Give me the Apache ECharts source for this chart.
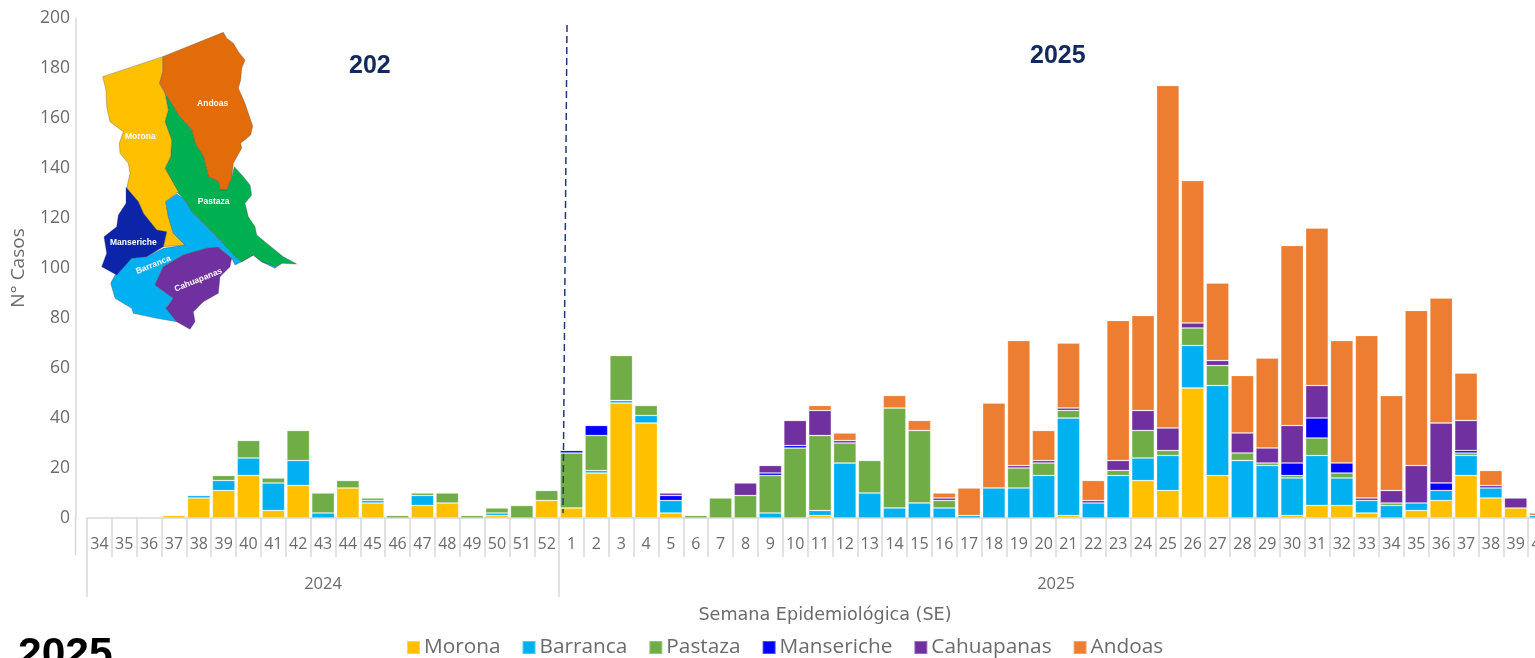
<!DOCTYPE html>
<html><head><meta charset="utf-8">
<style>html,body{margin:0;padding:0;background:#fff;overflow:hidden}#c{width:1535px;height:658px}</style>
<script src="https://cdn.jsdelivr.net/npm/echarts@6/dist/echarts.min.js"></script>
</head><body><div id="c"></div>
<script>
const weeks = ['34','35','36','37','38','39','40','41','42','43','44','45','46','47','48','49','50','51','52',
 '1','2','3','4','5','6','7','8','9','10','11','12','13','14','15','16','17','18','19','20','21','22','23','24','25','26','27','28','29','30','31','32','33','34','35','36','37','38','39','40'];
const yearLabels = ['2024','2025'];
const morona = [0,0,0,1,8,11,17,3,13,0,12,6,0,5,6,0,1,0,7,
 4,18,46,38,2,0,0,0,0,0,1,0,0,0,0,0,0,0,0,0,1,0,0,15,11,52,17,0,0,1,5,5,2,0,3,7,17,8,4,0];
const barranca = [0,0,0,0,1,4,7,11,10,2,0,1,0,4,0,0,1,0,0,
 0,1,1,3,5,0,0,0,2,0,2,22,10,4,6,4,1,12,12,17,39,6,17,9,14,17,36,23,21,15,20,11,5,5,3,4,8,4,0,1];
const pastaza = [0,0,0,0,0,2,7,2,12,8,3,1,1,1,4,1,2,5,4,
 22,14,18,4,0,1,8,9,15,28,30,8,13,40,29,3,0,0,8,5,3,0,2,11,2,7,8,3,1,1,7,2,0,1,0,0,1,0,0,0];
const manseriche = [0,0,0,0,0,0,0,0,0,0,0,0,0,0,0,0,0,0,0,
 1,4,0,0,2,0,0,0,1,1,0,0,0,0,0,0,0,0,0,0,0,0,0,0,0,0,0,0,0,5,8,4,0,0,0,3,1,0,0,0];
const cahuapanas = [0,0,0,0,0,0,0,0,0,0,0,0,0,0,0,0,0,0,0,
 0,0,0,0,1,0,0,5,3,10,10,1,0,0,0,1,0,0,1,1,1,1,4,8,9,2,2,8,6,15,13,0,1,5,15,24,12,1,4,0];
const andoas = [0,0,0,0,0,0,0,0,0,0,0,0,0,0,0,0,0,0,0,
 0,0,0,0,0,0,0,0,0,0,2,3,0,5,4,2,11,34,50,12,26,8,56,38,137,57,31,23,36,72,63,49,65,38,62,50,19,6,0,1];
const names = ['Morona','Barranca','Pastaza','Manseriche','Cahuapanas','Andoas'];
const colors = ['#FFC000','#00B0F0','#70AD47','#0000FF','#7030A0','#ED7D31'];
const seriesValues = [morona,barranca,pastaza,manseriche,cahuapanas,andoas];

const F = '"Open Sans", sans-serif';
const GREY = '#6b6b6b', LINE = '#D9D9D9';

/* inset map (decoration) at 3x */
const mapRegions = [
 ['#E36C0A',[[488,170],[670,97],[680,115],[700,130],[715,155],[735,180],[725,205],[722,240],[715,265],[735,310],[745,340],[758,378],[752,405],[722,430],[725,445],[700,490],[695,535],[680,570],[660,570],[655,545],[625,530],[610,470],[585,430],[575,390],[535,345],[505,295],[478,250],[488,215]]],
 ['#00B050',[[472,250],[505,295],[535,345],[575,390],[585,430],[610,470],[625,530],[655,545],[660,570],[680,570],[695,535],[703,500],[730,530],[750,555],[755,585],[735,610],[745,650],[765,680],[770,705],[800,730],[850,770],[890,792],[845,790],[825,800],[785,785],[760,765],[725,785],[705,770],[660,720],[610,670],[575,635],[550,595],[530,575],[495,505],[512,470],[515,420],[495,365],[505,330],[495,280]]],
 ['#FFC000',[[308,230],[488,170],[488,215],[478,250],[495,280],[505,330],[495,365],[515,420],[512,470],[495,505],[535,575],[497,605],[505,650],[520,700],[555,735],[490,740],[500,700],[470,690],[430,640],[415,605],[380,565],[390,520],[385,490],[360,460],[358,430],[370,395],[330,365],[320,320],[318,270]]],
 ['#00B0F0',[[530,582],[497,605],[505,650],[520,700],[555,735],[490,745],[440,770],[395,775],[345,825],[332,850],[345,895],[395,925],[400,940],[470,955],[530,965],[500,920],[520,895],[465,855],[490,800],[550,765],[620,745],[660,745],[695,775],[705,795],[725,785],[760,765],[785,785],[825,805],[845,790],[825,800],[785,785],[760,765],[725,785],[705,770],[660,720],[610,670],[575,635],[550,595]]],
 ['#0B24A8',[[378,562],[415,605],[430,640],[470,690],[500,695],[490,740],[440,770],[395,775],[350,825],[305,800],[320,760],[312,710],[350,680],[355,645],[378,610]]],
 ['#7030A0',[[465,855],[490,800],[550,765],[620,745],[655,742],[695,775],[690,800],[660,830],[655,880],[610,905],[580,935],[585,965],[570,988],[530,965],[498,925],[520,895]]]
];
const mapLabels = [['Andoas',638,310,0],['Morona',421,411,0],['Pastaza',641,604,0],['Manseriche',400,727,0],['Barranca',460,795,-22],['Cahuapanas',595,840,-22]];

const graphic = [];
mapRegions.forEach(r => graphic.push({type:'polygon',z:50,
  shape:{points:r[1].map(p=>[p[0]/3,p[1]/3])},
  style:{fill:r[0],stroke:'rgba(70,70,70,0.55)',lineWidth:0.6}}));
mapLabels.forEach(l => graphic.push({type:'text',z:51,x:l[1]/3,y:l[2]/3,rotation:l[3]*Math.PI/-180,
  style:{text:l[0],fill:'#fff',font:'bold 8.5px "Liberation Sans"',align:'center',verticalAlign:'middle'}}));
graphic.push(
 {type:'text',z:60,x:349,y:66,style:{text:'202',fill:'#12295E',font:'bold 25px "Liberation Sans"',verticalAlign:'middle'}},
 {type:'text',z:60,x:1030,y:56,style:{text:'2025',fill:'#12295E',font:'bold 25px "Liberation Sans"',verticalAlign:'middle'}},
 {type:'text',z:60,x:18,y:655,style:{text:'2025',fill:'#000',font:'bold 42.5px "Liberation Sans"',verticalAlign:'middle'}},
 {type:'line',z:60,shape:{x1:567,y1:25,x2:563,y2:513},style:{stroke:'#1F3A7A',lineWidth:1.5,lineDash:[7,4]}},
 {type:'line',z:1,shape:{x1:75.5,y1:518,x2:75.5,y2:555},style:{stroke:LINE,lineWidth:1.5}}
);

const chart = echarts.init(document.getElementById('c'),null,{renderer:'canvas'});
chart.setOption({
 animation:false,
 backgroundColor:'#fff',
 textStyle:{fontFamily:F},
 title:{text:'Semana Epidemiológica (SE)',left:820,top:601,textAlign:'center',
  textStyle:{color:GREY,fontSize:17.6,fontWeight:'normal',fontFamily:'"DejaVu Sans"'}},
 grid:{left:87,top:18,width:1466,height:500,containLabel:false,outerBoundsMode:'none'},
 legend:{left:406,top:637,padding:0,itemWidth:13,itemHeight:13,itemGap:21,icon:'rect',
   data:names,textStyle:{color:GREY,fontSize:20.8,fontFamily:F,padding:[0,0,0,-1]}},
 xAxis:[
  {type:'category',data:weeks,position:'bottom',
   axisLine:{show:true,lineStyle:{color:LINE,width:1.5}},
   axisTick:{show:true,length:39,interval:0,lineStyle:{color:LINE,width:1.5}},
   axisLabel:{interval:0,color:GREY,fontSize:16,margin:18,fontFamily:F},
   splitLine:{show:false}},
  {type:'value',min:0,max:59,position:'bottom',
   axisLine:{show:false},
   axisTick:{show:true,length:79,customValues:[0,19,59],lineStyle:{color:LINE,width:1.5}},
   axisLabel:{customValues:[9.5,39],color:GREY,fontSize:16.5,margin:58,fontFamily:F,
     formatter:v=>yearLabels[v<19?0:1]},
   splitLine:{show:false}}
 ],
 yAxis:{type:'value',min:0,max:200,interval:20,offset:11,
   name:'N° Casos',nameLocation:'middle',nameGap:48,nameRotate:90,
   nameTextStyle:{color:GREY,fontSize:19,fontFamily:F},
   axisLine:{show:true,onZero:false,lineStyle:{color:LINE,width:1.5}},
   axisTick:{show:false},
   axisLabel:{color:GREY,fontSize:17.5,margin:6,fontFamily:F},
   splitLine:{show:false}},
 series:names.map((n,i)=>({name:n,type:'bar',stack:'c',xAxisIndex:0,barWidth:'91%',
   data:seriesValues[i].map(v=>v===0?null:v),
   itemStyle:{color:colors[i],borderColor:'rgba(255,255,255,0.3)',borderWidth:0.8}})),
 graphic:graphic
});
</script></body></html>
